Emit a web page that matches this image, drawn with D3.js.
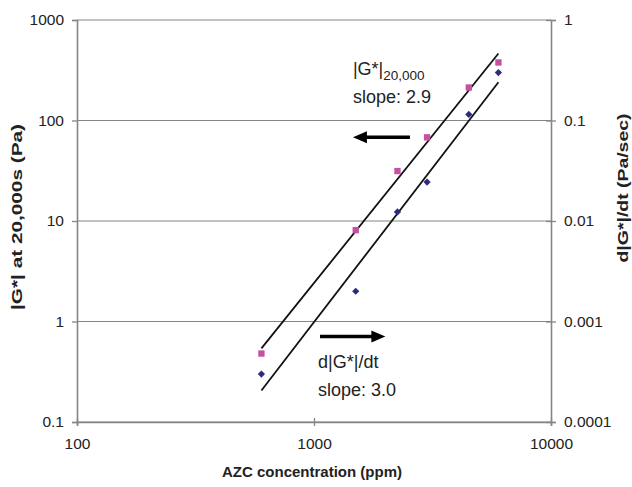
<!DOCTYPE html>
<html>
<head>
<meta charset="utf-8">
<script src="https://cdn.jsdelivr.net/npm/d3@7"></script>
<style>
  body { margin: 0; background: #fff; }
  text { font-family: "Liberation Sans", Arial, sans-serif; fill: #222; }
</style>
</head>
<body>
<div id="chart"></div>
<script>
var width = 632;
var height = 487;

// data
var concentration = [600, 1500, 2250, 3000, 4500, 6000];
var gStar = [0.48, 8.1, 31.4, 68, 213, 378];           // |G*| at 20,000 s (Pa), left axis
var gRate = [0.0003, 0.002, 0.0123, 0.0244, 0.115, 0.30]; // d|G*|/dt (Pa/sec), right axis
// power-law fit end points [x, y]
var gStarFit = [[600, 0.54], [6000, 464]];
var gRateFit = [[600, 0.000206], [6000, 0.24]];
var xTicks = [100, 1000, 10000];
var leftTicks = [0.1, 1, 10, 100, 1000];
var rightTicks = [0.0001, 0.001, 0.01, 0.1, 1];

var margin = { top: 20, right: 81, bottom: 65, left: 77 };

var svg = d3.select("#chart").append("svg")
	.attr("width", width)
	.attr("height", height);

var x = d3.scaleLog().domain([100, 10000]).range([margin.left, width - margin.right]);
var yL = d3.scaleLog().domain([0.1, 1000]).range([height - margin.bottom, margin.top]);
var yR = d3.scaleLog().domain([0.0001, 1]).range([height - margin.bottom, margin.top]);

var axisColor = "#858585";

// gridlines
svg.append("g").selectAll("line")
	.data(leftTicks)
	.enter().append("line")
		.attr("x1", x(100)).attr("x2", x(10000))
		.attr("y1", function(d) { return yL(d); })
		.attr("y2", function(d) { return yL(d); })
		.attr("stroke", axisColor)
		.attr("stroke-width", 1.2);

// axes
var left = svg.append("g")
	.attr("transform", "translate(" + x(100) + ",0)")
	.call(d3.axisLeft(yL).tickValues(leftTicks).tickFormat(d3.format("~g")).tickSize(5).tickPadding(8));
var right = svg.append("g")
	.attr("transform", "translate(" + x(10000) + ",0)")
	.call(d3.axisRight(yR).tickValues(rightTicks).tickFormat(function(d) { return String(d); }).tickSize(5).tickPadding(8));
var bottom = svg.append("g")
	.attr("transform", "translate(0," + yL(0.1) + ")")
	.call(d3.axisBottom(x).tickValues(xTicks).tickFormat(d3.format("d")).tickSize(4).tickPadding(12));

[left, right, bottom].forEach(function(g) {
	g.select(".domain").attr("stroke", axisColor).attr("stroke-width", 1.6);
	g.selectAll(".tick line").attr("stroke", axisColor).attr("stroke-width", 1.3);
	g.selectAll(".tick text")
		.style("font-family", "'Liberation Sans', Arial, sans-serif")
		.style("font-size", "15.5px")
		.attr("fill", "#222");
});
// cross ticks on right and bottom
right.selectAll(".tick").append("line").attr("x2", -5).attr("stroke", axisColor).attr("stroke-width", 1.3);
bottom.selectAll(".tick").append("line").attr("y2", -4).attr("stroke", axisColor).attr("stroke-width", 1.3);

// axis titles
svg.append("text")
	.attr("x", x(1000) - 2)
	.attr("y", 477)
	.attr("text-anchor", "middle")
	.style("font-size", "15px")
	.style("font-weight", "bold")
	.text("AZC concentration (ppm)");

svg.append("text")
	.attr("transform", "translate(22,217) rotate(-90)")
	.attr("text-anchor", "middle")
	.attr("textLength", 186)
	.attr("lengthAdjust", "spacingAndGlyphs")
	.style("font-size", "15px")
	.style("font-weight", "bold")
	.text("|G*| at 20,000s (Pa)");

svg.append("text")
	.attr("transform", "translate(628,188) rotate(-90)")
	.attr("text-anchor", "middle")
	.attr("textLength", 149)
	.attr("lengthAdjust", "spacingAndGlyphs")
	.style("font-size", "15px")
	.style("font-weight", "bold")
	.text("d|G*|/dt (Pa/sec)");

// fit lines
var lineL = d3.line().x(function(d) { return x(d[0]); }).y(function(d) { return yL(d[1]); });
var lineR = d3.line().x(function(d) { return x(d[0]); }).y(function(d) { return yR(d[1]); });
svg.append("path").attr("d", lineL(gStarFit)).attr("stroke", "#111").attr("stroke-width", 1.8).attr("fill", "none");
svg.append("path").attr("d", lineR(gRateFit)).attr("stroke", "#111").attr("stroke-width", 1.8).attr("fill", "none");

// markers
svg.append("g").selectAll("path")
	.data(concentration)
	.enter().append("path")
		.attr("d", d3.symbol().type(d3.symbolSquare).size(40))
		.attr("transform", function(d, i) { return "translate(" + x(d) + "," + yL(gStar[i]) + ")"; })
		.attr("fill", "#c64fa0");
svg.append("g").selectAll("path")
	.data(concentration)
	.enter().append("path")
		.attr("d", d3.symbol().type(d3.symbolSquare).size(26))
		.attr("transform", function(d, i) { return "translate(" + x(d) + "," + yR(gRate[i]) + ") rotate(45)"; })
		.attr("fill", "#2c2b82");

// arrows
function arrow(x1, x2, yy) {
	var dir = x2 > x1 ? 1 : -1;
	svg.append("line")
		.attr("x1", x1).attr("x2", x2 - dir * 10)
		.attr("y1", yy).attr("y2", yy)
		.attr("stroke", "#000").attr("stroke-width", 3.5);
	svg.append("path")
		.attr("d", "M" + x2 + "," + yy + "L" + (x2 - dir * 14) + "," + (yy - 6) + "L" + (x2 - dir * 14) + "," + (yy + 6) + "Z")
		.attr("fill", "#000");
}
arrow(x(2540), x(1460), yL(68));
arrow(x(1060), x(2000), yL(0.71));

// annotations
var t1 = svg.append("text").attr("x", x(1460)).attr("y", yL(281)).style("font-size", "18px");
t1.append("tspan").text("|G*|");
t1.append("tspan").attr("dy", 5).style("font-size", "13.5px").text("20,000");
svg.append("text").attr("x", x(1460)).attr("y", yL(151)).style("font-size", "18px").text("slope: 2.9");
svg.append("text").attr("x", x(1040)).attr("y", yL(0.348)).style("font-size", "18px").text("d|G*|/dt");
svg.append("text").attr("x", x(1040)).attr("y", yL(0.18)).style("font-size", "18px").text("slope: 3.0");
</script>
</body>
</html>
